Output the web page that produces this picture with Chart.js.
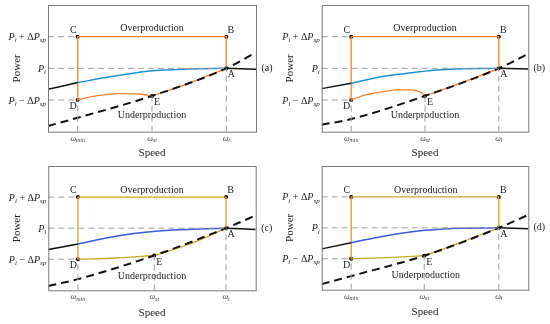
<!DOCTYPE html>
<html>
<head>
<meta charset="utf-8">
<script src="https://cdn.jsdelivr.net/npm/chart.js@4.4.1/dist/chart.umd.min.js"></script>
<style>
  html, body { margin: 0; padding: 0; background: #fff; }
  #wrap { position: relative; width: 550px; height: 324px; }
  .panel { position: absolute; width: 275px; height: 162px; }
</style>
</head>
<body>
<div id="wrap">
  <div class="panel" style="left:0;top:0"><canvas id="chartA"></canvas></div>
  <div class="panel" style="left:275px;top:0"><canvas id="chartB"></canvas></div>
  <div class="panel" style="left:0;top:162px"><canvas id="chartC"></canvas></div>
  <div class="panel" style="left:275px;top:162px"><canvas id="chartD"></canvas></div>
</div>
<script>
// axis ranges (speed in units of omega, power around P_i in units of dP_sp)
const speedMin = -0.4, speedMax = 2.4;
const powerMin = -2, powerMax = 2;

// tick labels, drawn as [text, style] pieces (i = italic, n = normal, s = subscript)
const powerTicks = [1, 0, -1];
const powerTickText = [
  [['P', 'i'], ['i', 's'], [' + Δ', 'n'], ['P', 'i'], ['sp', 's']],
  [['P', 'i'], ['i', 's']],
  [['P', 'i'], ['i', 's'], [' − Δ', 'n'], ['P', 'i'], ['sp', 's']]
];
const speedTickText = [
  [['ω', 'i'], ['min', 's']],
  [['ω', 'i'], ['st', 's']],
  [['ω', 'i'], ['i', 's']]
];
const panelTags = ['(a)', '(b)', '(c)', '(d)'];

// operating points shared by all panels
const pointC = [0, 1], pointB = [2, 1], pointA = [2, 0], pointD = [0, -1];
const boxPath = [pointD, pointC, pointB, pointA];

// panel (a)
const speedTicksA = [0, 1, 2];
const powerCurveA = [[-0.4, -0.66], [0, -0.45], [0.38, -0.29], [0.97, -0.085], [1.5, -0.02], [2, 0], [2.4, -0.03]];
const mpptCurveA = [[-0.4, -1.82], [0, -1.56], [1, -0.87], [2, 0], [2.4, 0.5]];
const recoveryA = [[0, -1], [0.16, -0.905], [0.38, -0.83], [0.61, -0.8], [0.83, -0.81], [1, -0.87]];
const rampA = [[1, -0.87], [1.42, -0.54], [2, 0]];

// panel (b)
const speedTicksB = [0, 1, 2];
const powerCurveB = [[-0.4, -0.64], [0, -0.47], [0.42, -0.26], [0.87, -0.12], [1.32, -0.03], [2, 0], [2.4, -0.02]];
const mpptCurveB = [[-0.4, -1.78], [0, -1.6], [1, -0.87], [2, 0], [2.4, 0.46]];
const recoveryB = [[0, -1], [0.19, -0.84], [0.42, -0.74], [0.64, -0.68], [0.82, -0.68], [0.91, -0.73], [0.97, -0.8], [1, -0.87]];
const rampB = [[1, -0.87], [1.51, -0.44], [2, 0]];

// panel (c)
const speedTicksC = [0, 1.03, 2];
const powerCurveC = [[-0.4, -0.69], [0, -0.51], [0.61, -0.22], [1.28, -0.06], [2, 0], [2.4, -0.04]];
const mpptCurveC = [[-0.4, -1.86], [0, -1.64], [1.03, -0.88], [2, 0], [2.4, 0.41]];
const recoveryC = [[0, -1], [0.52, -0.96], [1.03, -0.88]];
const rampC = [[1.03, -0.88], [1.51, -0.51], [2, 0]];

// panel (d)
const speedTicksD = [0, 0.99, 2];
const powerCurveD = [[-0.4, -0.68], [0, -0.48], [0.46, -0.26], [1, -0.08], [1.51, -0.01], [2, 0], [2.4, -0.03]];
const mpptCurveD = [[-0.4, -1.82], [0, -1.56], [0.99, -0.9], [2, 0], [2.4, 0.42]];
const recoveryD = [[0, -1], [0.5, -0.96], [0.99, -0.9]];
const rampD = [[0.99, -0.9], [1.51, -0.45], [2, 0]];

const serif = '"Liberation Serif", "DejaVu Serif", serif';
const toXY = arr => arr.map(p => ({ x: p[0], y: p[1] }));

function drawMath(ctx, parts, x, y, align, size) {
  const sub = Math.round(size * 0.7);
  const fontOf = s => s === 's' ? `italic ${sub}px ${serif}` : s === 'i' ? `italic ${size}px ${serif}` : `${size}px ${serif}`;
  let w = 0;
  parts.forEach(([t, s]) => { ctx.font = fontOf(s); w += ctx.measureText(t).width; });
  let cx = align === 'right' ? x - w : align === 'center' ? x - w / 2 : x;
  ctx.textAlign = 'left';
  ctx.textBaseline = 'alphabetic';
  parts.forEach(([t, s]) => {
    ctx.font = fontOf(s);
    ctx.fillText(t, cx, s === 's' ? y + size * 0.22 : y);
    cx += ctx.measureText(t).width;
  });
}

function makePanel(id, p) {
  const ticks = p.speedTicks;
  const stall = p.recovery[p.recovery.length - 1];
  const guideStyle = { borderColor: '#9e9e9e', borderWidth: 1, borderDash: [6, 4], pointRadius: 0, tension: 0 };
  const guides = [
    [[speedMin, 1], pointC],
    [[speedMin, 0], pointA],
    [[speedMin, -1], pointD],
    [[ticks[0], powerMin], pointD],
    [[ticks[1], powerMin], stall],
    [[ticks[2], powerMin], pointA]
  ].map(g => Object.assign({ data: toXY(g) }, guideStyle));

  const blackStyle = { borderColor: '#111', borderWidth: 1.5, pointRadius: 0 };
  const datasets = guides.concat([
    Object.assign({ data: toXY(p.power.filter(q => q[0] <= ticks[0])), cubicInterpolationMode: 'monotone' }, blackStyle),
    Object.assign({ data: toXY(p.power.filter(q => q[0] >= pointA[0])), cubicInterpolationMode: 'monotone' }, blackStyle),
    { data: toXY(p.mppt), borderColor: '#111', borderWidth: 2, borderDash: [8, 5], pointRadius: 0, cubicInterpolationMode: 'monotone' },
    { data: toXY(p.power.filter(q => q[0] >= ticks[0] && q[0] <= pointA[0])), borderColor: p.blue, borderWidth: 1.5, pointRadius: 0, cubicInterpolationMode: 'monotone' },
    { data: toXY(boxPath), borderColor: p.path, borderWidth: 1.3, pointRadius: 0, tension: 0 },
    { data: toXY(p.recovery), borderColor: p.path, borderWidth: 1.3, pointRadius: 0, cubicInterpolationMode: 'monotone' },
    { data: toXY(p.ramp), borderColor: p.path, borderWidth: 1.3, pointRadius: 0, cubicInterpolationMode: 'monotone' },
    { data: toXY([pointC, pointB, pointA, pointD, stall]), showLine: false, pointRadius: 2, pointBackgroundColor: '#000', pointBorderColor: '#000', pointBorderWidth: 0 }
  ]);

  const labels = [
    ['C', pointC, -4.5, -6.5], ['B', pointB, 4.5, -6.5], ['A', pointA, 5, 6.5],
    ['D', pointD, -4.5, 6.5], ['E', stall, 5, 6.5]
  ];

  const annotate = {
    id: 'annotate' + id,
    afterDraw(chart) {
      const { ctx, chartArea: a, scales: { x, y } } = chart;
      ctx.save();
      ctx.strokeStyle = '#7a7a7a';
      ctx.lineWidth = 1;
      ctx.strokeRect(a.left + 0.5, a.top + 0.5, a.right - a.left, a.bottom - a.top);
      ctx.fillStyle = '#222';
      powerTicks.forEach((v, i) => drawMath(ctx, powerTickText[i], a.left - 2, y.getPixelForValue(v) + 3.5, 'right', 10));
      ctx.fillStyle = '#444';
      ticks.forEach((v, i) => drawMath(ctx, speedTickText[i], x.getPixelForValue(v), a.bottom + 9, 'center', 8));
      ctx.fillStyle = '#222';
      ctx.font = `10px ${serif}`;
      ctx.textAlign = 'center';
      ctx.textBaseline = 'middle';
      labels.forEach(([t, q, dx, dy]) => ctx.fillText(t, x.getPixelForValue(q[0]) + dx, y.getPixelForValue(q[1]) + dy));
      ctx.fillText('Overproduction', x.getPixelForValue(p.overAt[0]), y.getPixelForValue(p.overAt[1]));
      ctx.fillText('Underproduction', x.getPixelForValue(p.underAt[0]), y.getPixelForValue(p.underAt[1]));
      ctx.fillText(p.tag, a.right + 11, y.getPixelForValue(0));
      ctx.restore();
    }
  };

  new Chart(document.getElementById(id), {
    type: 'line',
    data: { datasets },
    options: {
      responsive: true,
      maintainAspectRatio: false,
      animation: false,
      layout: { padding: { top: p.padTop, right: p.padRight, left: 0, bottom: 0 } },
      plugins: { legend: { display: false }, tooltip: { enabled: false } },
      scales: {
        x: {
          type: 'linear', min: speedMin, max: speedMax,
          ticks: { display: false }, grid: { display: false }, border: { display: false },
          title: { display: true, text: 'Speed', color: '#222', font: { family: serif, size: 11 }, padding: { top: 0, bottom: p.xTitlePad } },
          afterFit: s => { s.height = p.axisH; }
        },
        y: {
          type: 'linear', min: powerMin, max: powerMax,
          ticks: { display: false }, grid: { display: false }, border: { display: false },
          title: { display: true, text: 'Power', color: '#222', font: { family: serif, size: 11 }, padding: { top: p.yTitlePad, bottom: 0 } },
          afterFit: s => { s.width = p.axisW; }
        }
      }
    },
    plugins: [annotate]
  });
}

makePanel('chartA', {
  tag: panelTags[0], speedTicks: speedTicksA, power: powerCurveA, mppt: mpptCurveA, recovery: recoveryA, ramp: rampA,
  blue: '#1f8fd6', path: '#ff7f2e', overAt: [1, 1.25], underAt: [1, -1.5],
  padTop: 5, padRight: 19, axisW: 48, axisH: 30.3, yTitlePad: 11, xTitlePad: 2
});
makePanel('chartB', {
  tag: panelTags[1], speedTicks: speedTicksB, power: powerCurveB, mppt: mpptCurveB, recovery: recoveryB, ramp: rampB,
  blue: '#1f8fd6', path: '#ff7f2e', overAt: [1, 1.25], underAt: [1, -1.5],
  padTop: 5, padRight: 21.7, axisW: 46.7, axisH: 30.3, yTitlePad: 9, xTitlePad: 2
});
makePanel('chartC', {
  tag: panelTags[2], speedTicks: speedTicksC, power: powerCurveC, mppt: mpptCurveC, recovery: recoveryC, ramp: rampC,
  blue: '#3c5adc', path: '#c9a825', overAt: [1, 1.21], underAt: [1, -1.55],
  padTop: 4, padRight: 19.3, axisW: 48.3, axisH: 33.7, yTitlePad: 11, xTitlePad: 4.7
});
makePanel('chartD', {
  tag: panelTags[3], speedTicks: speedTicksD, power: powerCurveD, mppt: mpptCurveD, recovery: recoveryD, ramp: rampD,
  blue: '#3c5adc', path: '#c9a825', overAt: [1.01, 1.21], underAt: [1.01, -1.55],
  padTop: 4, padRight: 21.7, axisW: 46.7, axisH: 34.3, yTitlePad: 8.5, xTitlePad: 5.4
});
</script>
</body>
</html>
